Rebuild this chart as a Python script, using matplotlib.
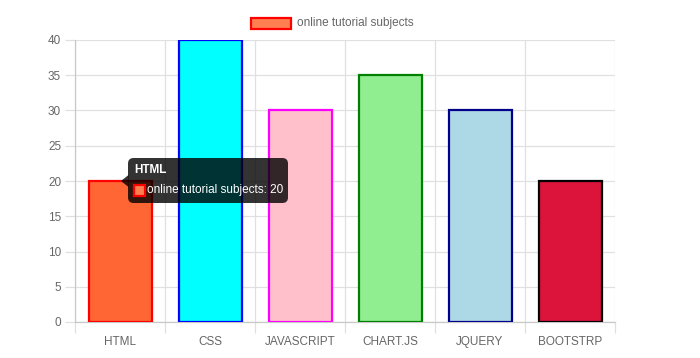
import matplotlib.pyplot as plt
from matplotlib.patches import FancyBboxPatch, Polygon, Rectangle

plt.rcParams['font.family'] = ['Liberation Sans', 'DejaVu Sans']

# data
subjects = ['HTML', 'CSS', 'JAVASCRIPT', 'CHART.JS', 'JQUERY', 'BOOTSTRP']
counts = [20, 40, 30, 35, 30, 20]
fill_colors = ['#ff6633', '#00ffff', '#ffc0cb', '#90ee90', '#add8e6', '#dc143c']
edge_colors = ['#ff0000', '#0000ff', '#ff00ff', '#008000', '#00008b', '#000000']
label = 'online tutorial subjects'

W, H = 700, 358
fig = plt.figure(figsize=(W / 100, H / 100), dpi=100)

def fx(x):
    return x / W

def fy(y):
    return 1 - y / H

fs = 8.5  # font size used across the chart

# plot area in pixels
left, right, top, bottom = 75, 615, 40, 322
ax = fig.add_axes([fx(left), fy(bottom), fx(right - left), (bottom - top) / H])

pos = list(range(len(subjects)))
ax.bar(pos, counts, width=0.7, color=fill_colors, edgecolor=edge_colors,
       linewidth=1.6, zorder=3)

ax.set_xlim(-0.5, len(subjects) - 0.5)
ax.set_ylim(0, 40)
ax.set_yticks(range(0, 41, 5))
ax.set_xticks(pos)
ax.set_xticklabels(subjects)
ax.set_xticks([p - 0.5 for p in range(len(subjects) + 1)], minor=True)

grid_c = '#e0e0e0'
ax.grid(axis='y', color=grid_c, linewidth=0.9, zorder=0)
ax.grid(axis='x', which='minor', color=grid_c, linewidth=0.9, zorder=0)
ax.tick_params(axis='y', colors=grid_c, length=7, width=0.9, labelcolor='#666666',
               labelsize=fs, pad=3)
ax.tick_params(axis='x', which='major', length=0, labelcolor='#666666',
               labelsize=fs, pad=10)
ax.tick_params(axis='x', which='minor', colors=grid_c, length=8, width=0.9)
for s in ['top', 'right']:
    ax.spines[s].set_visible(False)
for s in ['left', 'bottom']:
    ax.spines[s].set_color('#c8c8c8')
    ax.spines[s].set_linewidth(0.9)

# legend (drawn by hand, like chart.js)
fig.patches.append(Rectangle((fx(251), fy(29)), fx(40), 11 / H, transform=fig.transFigure,
                             facecolor='#ff7f50', edgecolor='#ff0000', linewidth=1.6))
fig.text(fx(297), fy(23), label, color='#666666', fontsize=fs, va='center', ha='left')

# tooltip over the HTML bar
tip_c = (0, 0, 0, 0.8)
fig.patches.append(FancyBboxPatch((fx(128), fy(203)), fx(160), 45 / H,
                                  boxstyle='round,pad=0,rounding_size=0.008',
                                  transform=fig.transFigure, facecolor=tip_c,
                                  edgecolor='none', mutation_aspect=W / H))
fig.patches.append(Polygon([(fx(121), fy(181)), (fx(128.5), fy(175)), (fx(128.5), fy(187))],
                           closed=True, transform=fig.transFigure, facecolor=tip_c,
                           edgecolor='none'))
fig.text(fx(134), fy(170), subjects[0], color='white', fontsize=fs, fontweight='bold',
         va='center', ha='left')
fig.patches.append(Rectangle((fx(134), fy(196)), fx(11), 11 / H, transform=fig.transFigure,
                             facecolor='#ff7f50', edgecolor='#ff0000', linewidth=1.6))
fig.text(fx(147), fy(190), f'{label}: {counts[0]}', color='white', fontsize=fs,
         va='center', ha='left')

fig.savefig('out.png', dpi=100)
